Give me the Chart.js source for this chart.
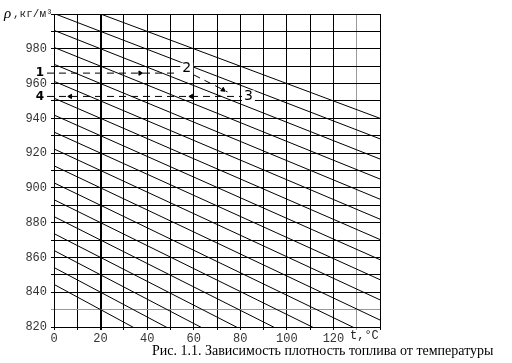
<!DOCTYPE html>
<html>
<head>
<meta charset="utf-8">
<script src="https://cdn.jsdelivr.net/npm/chart.js@4"></script>
<style>
  html, body { margin: 0; padding: 0; background: #fff; }
  #wrap { position: relative; width: 512px; height: 363px; overflow: hidden; }
  #c { position: absolute; left: 0; top: 0; }
  #caption { position: absolute; left: 152px; top: 343px; font-family: "Liberation Serif", "Times New Roman", serif; font-size: 14px; color: #000; white-space: nowrap; }
</style>
</head>
<body>
<div id="wrap">
  <canvas id="c" width="512" height="363"></canvas>
  <div id="caption">Рис. 1.1. Зависимость плотность топлива от температуры</div>
</div>
<script>
// Density lines: value at 20 °C, at 0 °C and at 140 °C (kg/m3)
const rho20    = [1000, 990, 980, 970, 960, 950, 940, 930, 920, 910, 900, 890, 880, 870, 860, 850, 840, 830];
const rhoAt0   = [1010.0, 1000.3, 990.6, 980.8, 971.1, 961.3, 951.6, 941.9, 932.1, 922.4, 912.7, 902.9, 893.2, 883.5, 873.7, 864.0, 854.2, 844.5];
const rhoAt140 = [940.0, 928.2, 916.6, 905.1, 893.5, 882.0, 870.3, 858.7, 847.2, 835.6, 824.0, 812.4, 800.8, 789.2, 777.7, 766.1, 754.6, 743.0];
const tPoints  = [0, 20, 140];

// Example (dashed) construction lines
const line1T = [-3, 53];    const line1Rho = [966, 966];
const line23T = [60, 74.5]; const line23Rho = [965, 955.2];
const line4T = [-3, 81];    const line4Rho = [952.6, 952.6];

// Arrow heads on the construction lines
const arrowT   = [37, 72.6, 7, 59];
const arrowRho = [966, 956.4, 952.6, 952.6];

// Marker labels
const markLabels = ['1', '2', '3', '4'];
const markT      = [-6, 57, 83.5, -6];
const markRho    = [966, 968.5, 952.6, 952.6];

// Axis tick labels
const xTickLabels = [0, 20, 40, 60, 80, 100, 120];
const yTickLabels = [820, 840, 860, 880, 900, 920, 940, 960, 980];

const datasets = [];
rho20.forEach((r, i) => {
  datasets.push({
    data: [
      { x: tPoints[0], y: rhoAt0[i] },
      { x: tPoints[1], y: r },
      { x: tPoints[2], y: rhoAt140[i] }
    ],
    showLine: true, borderColor: '#000', borderWidth: 1, pointRadius: 0, tension: 0
  });
});
function pairs(ts, vs) { return ts.map((t, i) => ({ x: t, y: vs[i] })); }
const dashStyle = { showLine: true, borderColor: '#000', borderWidth: 1, borderDash: [7, 5], pointRadius: 0, clip: false };
datasets.push(Object.assign({ data: pairs(line1T, line1Rho) }, dashStyle));
datasets.push(Object.assign({ data: pairs(line23T, line23Rho) }, dashStyle));
datasets.push(Object.assign({ data: pairs(line4T, line4Rho) }, dashStyle));
datasets.push({
  data: pairs(arrowT, arrowRho), showLine: false, pointStyle: 'triangle',
  pointRadius: 2.5, pointBackgroundColor: '#000', pointBorderColor: '#000', pointBorderWidth: 1,
  rotation: [90, 125, 270, 270], clip: false
});

const textPlugin = {
  id: 'texts',
  afterDraw(chart) {
    const ctx = chart.ctx, xs = chart.scales.x, ys = chart.scales.y;
    ctx.save();
    ctx.fillStyle = '#000';
    ctx.textBaseline = 'middle';
    markLabels.forEach((l, i) => {
      const px = xs.getPixelForValue(markT[i]);
      const py = ys.getPixelForValue(markRho[i]);
      if (l === '1' || l === '4') {
        ctx.font = 'bold 12px "DejaVu Sans", sans-serif';
      } else {
        ctx.font = '14px "DejaVu Sans", sans-serif';
        ctx.fillStyle = '#fff';
        const w = ctx.measureText(l).width;
        ctx.fillRect(px - w / 2 - 2, py - 6, w + 4, 12);
        ctx.fillStyle = '#000';
      }
      ctx.textAlign = 'center';
      ctx.fillText(l, px, py);
    });
    // Axis titles
    ctx.textAlign = 'left';
    ctx.font = 'italic 15px "Liberation Serif", serif';
    ctx.fillText('ρ', 4, 14);
    ctx.font = '11px "Liberation Mono", monospace';
    ctx.fillStyle = '#222';
    ctx.fillText(',кг/м³', 13, 14);
    ctx.font = '12px "Liberation Mono", monospace';
    ctx.fillText('t,°C', 350, 336);
    ctx.restore();
  }
};

new Chart(document.getElementById('c'), {
  type: 'scatter',
  data: { datasets },
  plugins: [textPlugin],
  options: {
    responsive: false,
    animation: false,
    events: [],
    layout: { padding: { left: 0, top: 14, right: 132, bottom: 0 } },
    plugins: { legend: { display: false }, tooltip: { enabled: false } },
    scales: {
      x: {
        type: 'linear', min: 0, max: 140,
        afterFit(s) { s.height = 36; },
        border: { color: '#000', width: 1 },
        grid: {
          color: c => (c.tick && c.tick.value === 130) ? '#999' : '#000',
          lineWidth: c => (c.tick && c.tick.value === 20) ? 2 : 1,
          tickLength: 3
        },
        ticks: {
          stepSize: 10, autoSkip: false, maxRotation: 0, padding: 2,
          color: '#333', font: { family: '"Liberation Mono", monospace', size: 12 },
          callback: v => xTickLabels.includes(v) ? String(v) : ''
        }
      },
      y: {
        type: 'linear', min: 820, max: 1000,
        afterFit(s) { s.width = 54; },
        border: { color: '#000', width: 1 },
        grid: {
          color: c => (c.tick && c.tick.value === 830) ? '#999' : '#000',
          lineWidth: 1,
          tickLength: 3
        },
        ticks: {
          stepSize: 10, autoSkip: false, padding: 4,
          color: '#333', font: { family: '"Liberation Mono", monospace', size: 12 },
          callback: v => yTickLabels.includes(v) ? String(v) : ''
        }
      }
    }
  }
});
</script>
</body>
</html>
